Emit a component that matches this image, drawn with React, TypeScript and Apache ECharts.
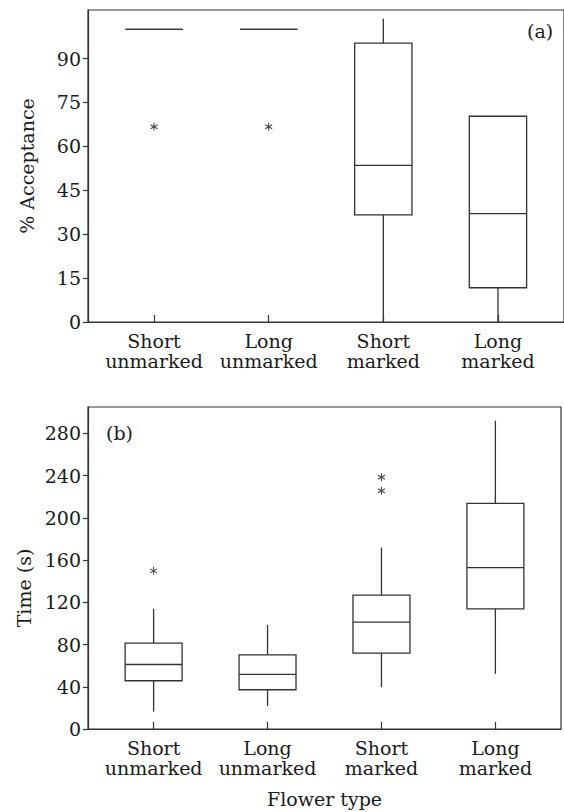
import React, { useEffect, useRef } from "react";
import * as echarts from "echarts";

const categories = ["Short\nunmarked", "Long\nunmarked", "Short\nmarked", "Long\nmarked"];
const categoryPositions = [1, 2, 3, 4];

// Panel (a): % Acceptance
const acceptMin = [100, 100, 0, 0];
const acceptQ1 = [100, 100, 36.6, 11.7];
const acceptMedian = [100, 100, 53.5, 37];
const acceptQ3 = [100, 100, 95.3, 70.3];
const acceptMax = [100, 100, 103.6, 70.3];
const acceptOutliers = [
  [1, 66.7],
  [2, 66.7],
];
const acceptTicks = [0, 15, 30, 45, 60, 75, 90];

// Panel (b): Time (s)
const timeMin = [16.4, 21.8, 39.7, 52.3];
const timeQ1 = [45.7, 37.2, 71.9, 113.8];
const timeMedian = [61.1, 51.7, 101.2, 152.9];
const timeQ3 = [81.4, 70.3, 126.8, 213.8];
const timeMax = [113.8, 98.4, 171.8, 292];
const timeOutliers = [
  [1, 149.8],
  [3, 238.4],
  [3, 225.7],
];
const timeTicks = [0, 40, 80, 120, 160, 200, 240, 280];

const FONT = "DejaVu Serif";
const INK = "#1a1a1a";
const LINE = "#333";

const asteriskPath =
  "path://M-0.13,-1L0.13,-1L0.13,1L-0.13,1Z" +
  "M0.801,-0.6126L0.931,-0.3874L-0.801,0.6126L-0.931,0.3874Z" +
  "M0.931,0.3874L0.801,0.6126L-0.931,-0.3874L-0.801,-0.6126Z";

function buildBoxData(mn: number[], q1: number[], md: number[], q3: number[], mx: number[]) {
  return categoryPositions.map((p, i) => [p, mn[i], q1[i], md[i], q3[i], mx[i]]);
}

function renderBox(params: any, api: any) {
  const x = api.value(0);
  const pMin = api.coord([x, api.value(1)]);
  const pQ1 = api.coord([x, api.value(2)]);
  const pMed = api.coord([x, api.value(3)]);
  const pQ3 = api.coord([x, api.value(4)]);
  const pMax = api.coord([x, api.value(5)]);
  const left = api.coord([x - 0.25, api.value(3)])[0];
  const right = api.coord([x + 0.25, api.value(3)])[0];
  const w = right - left;
  const style = { stroke: LINE, lineWidth: 1.3, fill: null };
  return {
    type: "group",
    children: [
      { type: "line", shape: { x1: pMax[0], y1: pMax[1], x2: pQ3[0], y2: pQ3[1] }, style },
      { type: "line", shape: { x1: pQ1[0], y1: pQ1[1], x2: pMin[0], y2: pMin[1] }, style },
      {
        type: "rect",
        shape: { x: left, y: pQ3[1], width: w, height: pQ1[1] - pQ3[1] },
        style: { stroke: LINE, lineWidth: 1.3, fill: "#fff" },
      },
      { type: "line", shape: { x1: left, y1: pMed[1], x2: right, y2: pMed[1] }, style },
    ],
  };
}

export default function App() {
  const ref = useRef<HTMLDivElement>(null);

  useEffect(() => {
    if (!ref.current) return;
    const chart = echarts.init(ref.current, null, { renderer: "svg" });

    const xAxisBase = (gridIndex: number, name: string) => ({
      type: "value",
      gridIndex,
      min: 0.424,
      max: 4.576,
      splitLine: { show: false },
      axisLine: { show: true, onZero: false, lineStyle: { color: LINE, width: 1.2 } },
      axisTick: {
        show: true,
        inside: true,
        length: 7,
        customValues: categoryPositions,
        lineStyle: { color: LINE, width: 1.2 },
      },
      axisLabel: {
        customValues: categoryPositions,
        formatter: (v: number) => categories[Math.round(v) - 1] ?? "",
        fontFamily: FONT,
        fontSize: 19,
        lineHeight: 20,
        color: INK,
        margin: 9,
      },
      name,
      nameLocation: "middle",
      nameGap: 60,
      nameTextStyle: { fontFamily: FONT, fontSize: 19, color: INK },
    });

    const yAxisBase = (gridIndex: number, max: number, ticks: number[], name: string, pad: number[]) => ({
      type: "value",
      gridIndex,
      min: 0,
      max,
      splitLine: { show: false },
      axisLine: { show: true, lineStyle: { color: LINE, width: 1.2 } },
      axisTick: {
        show: true,
        inside: false,
        length: 5,
        customValues: ticks,
        lineStyle: { color: LINE, width: 1.2 },
      },
      axisLabel: {
        customValues: ticks,
        fontFamily: FONT,
        fontSize: 19,
        color: INK,
        margin: 7,
      },
      name,
      nameLocation: "middle",
      nameGap: 52,
      nameTextStyle: { fontFamily: FONT, fontSize: 19, color: INK, padding: pad },
    });

    const option: any = {
      animation: false,
      backgroundColor: "#fff",
      textStyle: { fontFamily: FONT },
      grid: [
        { left: 88, top: 10, right: -2, bottom: 490, show: true, borderColor: LINE, borderWidth: 1.2 },
        { left: 88, top: 407, right: 3, bottom: 83, show: true, borderColor: LINE, borderWidth: 1.2 },
      ],
      xAxis: [xAxisBase(0, ""), xAxisBase(1, "Flower type")],
      yAxis: [
        yAxisBase(0, 106.6, acceptTicks, "% Acceptance", [0, 0, 0, 0]),
        yAxisBase(1, 305, timeTicks, "Time (s)", [0, 40, 0, 0]),
      ],
      series: [
        {
          type: "custom",
          xAxisIndex: 0,
          yAxisIndex: 0,
          renderItem: renderBox,
          encode: { x: 0, y: [1, 2, 3, 4, 5] },
          data: buildBoxData(acceptMin, acceptQ1, acceptMedian, acceptQ3, acceptMax),
          z: 2,
        },
        {
          type: "custom",
          xAxisIndex: 1,
          yAxisIndex: 1,
          renderItem: renderBox,
          encode: { x: 0, y: [1, 2, 3, 4, 5] },
          data: buildBoxData(timeMin, timeQ1, timeMedian, timeQ3, timeMax),
          z: 2,
        },
        {
          type: "scatter",
          xAxisIndex: 0,
          yAxisIndex: 0,
          symbol: asteriskPath,
          symbolSize: [7.5, 8],
          itemStyle: { color: INK },
          data: acceptOutliers,
          z: 3,
        },
        {
          type: "scatter",
          xAxisIndex: 1,
          yAxisIndex: 1,
          symbol: asteriskPath,
          symbolSize: [7.5, 8],
          itemStyle: { color: INK },
          data: timeOutliers,
          z: 3,
        },
      ],
      graphic: [
        {
          type: "text",
          left: 527,
          top: 21,
          style: { text: "(a)", fontFamily: FONT, fontSize: 19, fill: INK },
        },
        {
          type: "text",
          left: 106,
          top: 423,
          style: { text: "(b)", fontFamily: FONT, fontSize: 19, fill: INK },
        },
      ],
    };

    chart.setOption(option);
    return () => chart.dispose();
  }, []);

  return (
    <div
      ref={ref}
      style={{ position: "absolute", left: 0, top: 0, width: 564, height: 812, background: "#fff" }}
    />
  );
}
